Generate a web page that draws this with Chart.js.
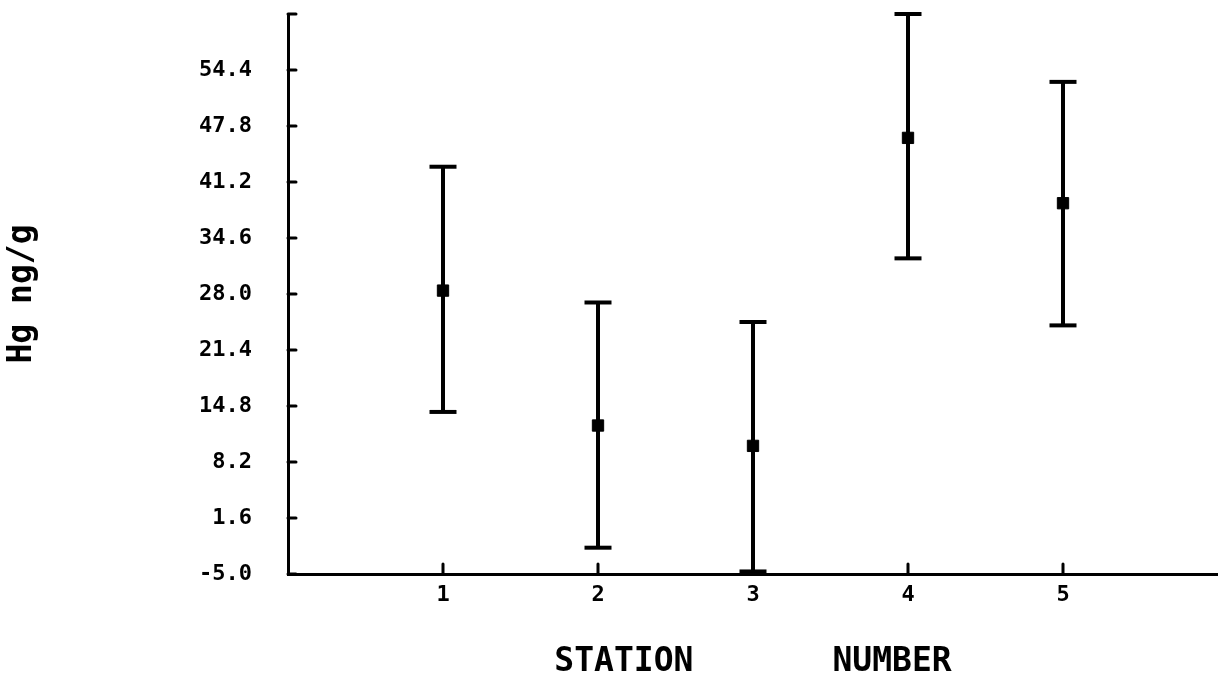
<!DOCTYPE html>
<html><head><meta charset="utf-8">
<script src="https://cdn.jsdelivr.net/npm/chart.js@4.4.1/dist/chart.umd.min.js"></script>
<style>html,body{margin:0;background:#fff}#wrap{width:1218px;height:679px}</style>
</head><body><div id="wrap"><canvas id="c"></canvas></div>
<script>
'use strict';
const stations=[1,2,3,4,5];
const means=[28.4,12.5,10.1,46.4,38.7];
const upper=[43.0,27.0,24.7,61.0,53.0];
const lower=[14.1,-1.9,-4.7,32.2,24.3];
const yTicks=[-5.0,1.6,8.2,14.8,21.4,28.0,34.6,41.2,47.8,54.4,61.0];
const yLabels=['-5.0','1.6','8.2','14.8','21.4','28.0','34.6','41.2','47.8','54.4',''];
const xTitle='STATION       NUMBER';
const yTitle='Hg ng/g';

const FONT='DejaVu Sans Mono';
const tickFont={family:FONT,size:22,weight:'bold'};
const titleFont={family:FONT,size:33,weight:'bold',lineHeight:1};

// inward tick marks like the plotter output
const inTicks={id:'inTicks',afterDraw(ch){
  const {ctx,scales:{x,y}}=ch;
  ctx.save(); ctx.strokeStyle='#000'; ctx.lineWidth=3; ctx.lineCap='round';
  const x0=x.getPixelForValue(0), y0=y.getPixelForValue(yTicks[0]);
  yTicks.forEach(v=>{const py=y.getPixelForValue(v); ctx.beginPath(); ctx.moveTo(x0,py); ctx.lineTo(x0+8,py); ctx.stroke();});
  stations.forEach(s=>{const px=x.getPixelForValue(s); ctx.beginPath(); ctx.moveTo(px,y0); ctx.lineTo(px,y0-10); ctx.stroke();});
  ctx.restore();
}};

const errLine=stations.flatMap((s,i)=>[{x:s,y:lower[i]},{x:s,y:upper[i]},{x:s,y:null}]);
const caps=stations.flatMap((s,i)=>[{x:s,y:upper[i]},{x:s,y:lower[i]}]);
const pts=stations.map((s,i)=>({x:s,y:means[i]}));

new Chart(document.getElementById('c').getContext('2d'),{
  type:'scatter',
  data:{datasets:[
    {data:errLine,showLine:true,spanGaps:false,borderColor:'#000',borderWidth:4,pointRadius:0,clip:false},
    {data:caps,pointStyle:'line',radius:13.5,borderColor:'#000',borderWidth:4,clip:false},
    {data:pts,pointStyle:'rect',radius:8,backgroundColor:'#000',borderColor:'#000',borderWidth:1,clip:false}
  ]},
  options:{
    responsive:true,maintainAspectRatio:false,animation:false,
    layout:{autoPadding:false,padding:{top:14,right:0,left:0,bottom:0}},
    plugins:{legend:{display:false},tooltip:{enabled:false}},
    scales:{
      x:{type:'linear',min:0,max:6,
        afterBuildTicks:s=>{s.ticks=stations.map(v=>({value:v}));},
        afterFit:s=>{s.height=105;s.paddingLeft=0;s.paddingRight=0;},
        ticks:{font:tickFont,color:'#000',padding:0},
        grid:{display:false},border:{display:true,color:'#000',width:3},
        title:{display:true,text:xTitle,font:titleFont,color:'#000',padding:{top:30,bottom:0}}},
      y:{min:yTicks[0],max:yTicks[yTicks.length-1],
        afterBuildTicks:s=>{s.ticks=yTicks.map(v=>({value:v}));},
        afterFit:s=>{s.width=288;s.paddingTop=0;s.paddingBottom=0;},
        ticks:{font:tickFont,color:'#000',padding:28,callback:(v,i)=>yLabels[i]},
        grid:{display:false},border:{display:true,color:'#000',width:3},
        title:{display:true,text:yTitle,font:titleFont,color:'#000',padding:{top:6,bottom:0}}}
    }
  },
  plugins:[inTicks]
});
</script></body></html>
